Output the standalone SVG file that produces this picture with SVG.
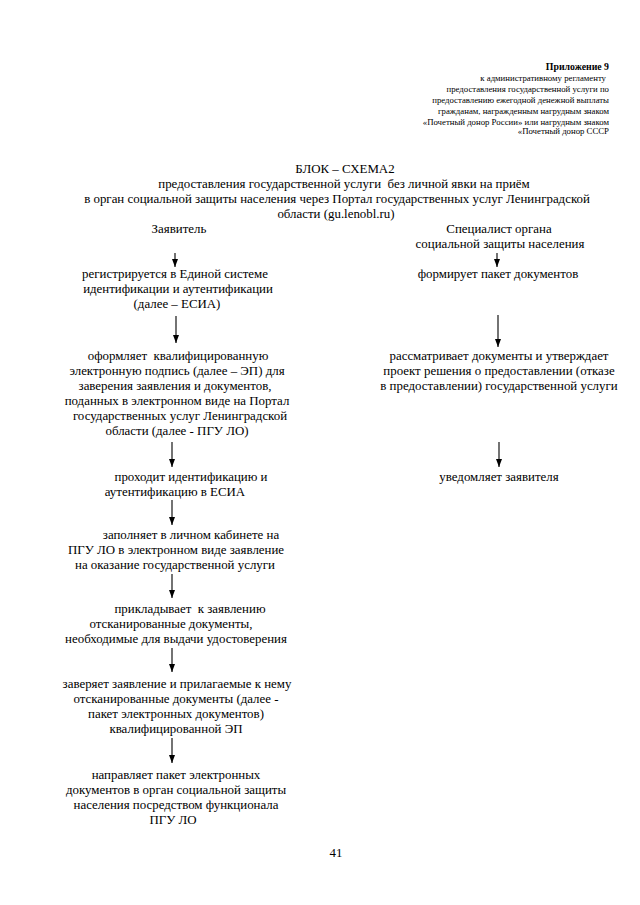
<svg xmlns="http://www.w3.org/2000/svg" width="640" height="905" viewBox="0 0 640 905">
<defs>
<style>
text{font-family:"Liberation Serif","Times New Roman",serif;fill:#000;white-space:pre;}
.hd{font-size:8.75px;text-anchor:end;}
.hb{font-size:9.8px;font-weight:bold;text-anchor:end;}
.t{font-size:12.9px;text-anchor:middle;}
</style>
<marker id="ad" viewBox="0 0 6 8" refX="3" refY="8" markerWidth="6" markerHeight="8" markerUnits="userSpaceOnUse">
<path d="M0,0 L6,0 L3,8 Z" fill="#000"/>
</marker>
</defs>
<rect width="640" height="905" fill="#fff"/>
<g id="header">
<text class="hb" x="609" y="70">Приложение 9</text>
<text class="hd" x="606" y="81">к административному регламенту</text>
<text class="hd" x="609" y="92">предоставления государственной услуги по</text>
<text class="hd" x="609" y="103">предоставлению ежегодной денежной выплаты</text>
<text class="hd" x="609" y="114">гражданам, награжденным нагрудным знаком</text>
<text class="hd" x="609" y="125">«Почетный донор России» или нагрудным знаком</text>
<text class="hd" x="609" y="134">«Почетный донор СССР</text>
</g>
<g id="title">
<text class="t" x="345" y="173">БЛОК – СХЕМА2</text>
<text class="t" x="344" y="188">предоставления государственной услуги  без личной явки на приём</text>
<text class="t" x="337" y="203">в орган социальной защиты населения через Портал государственных услуг Ленинградской</text>
<text class="t" x="336" y="218">области (gu.lenobl.ru)</text>
</g>
<g id="lane-applicant"><text class="t" x="179" y="233">Заявитель</text></g>
<g id="lane-specialist">
<text class="t" x="499" y="233">Специалист органа</text>
<text class="t" x="500" y="248">социальной защиты населения</text>
</g>
<g id="n1"><text class="t" x="175" y="278">регистрируется в Единой системе</text><text class="t" x="178" y="293">идентификации и аутентификации</text><text class="t" x="177" y="308">(далее – ЕСИА)</text></g>
<g id="n2"><text class="t" x="178" y="360">оформляет  квалифицированную</text><text class="t" x="177" y="375">электронную подпись (далее – ЭП) для</text><text class="t" x="175" y="390">заверения заявления и документов,</text><text class="t" x="177" y="405">поданных в электронном виде на Портал</text><text class="t" x="180" y="420">государственных услуг Ленинградской</text><text class="t" x="177" y="435">области (далее - ПГУ ЛО)</text></g>
<g id="n3"><text class="t" x="191" y="481">проходит идентификацию и</text><text class="t" x="175" y="496">аутентификацию в ЕСИА</text></g>
<g id="n4"><text class="t" x="191" y="539">заполняет в личном кабинете на</text><text class="t" x="176" y="554">ПГУ ЛО в электронном виде заявление</text><text class="t" x="175" y="569">на оказание государственной услуги</text></g>
<g id="n5"><text class="t" x="190" y="613">прикладывает  к заявлению</text><text class="t" x="171" y="628">отсканированные документы,</text><text class="t" x="176" y="643">необходимые для выдачи удостоверения</text></g>
<g id="n6"><text class="t" x="177" y="688">заверяет заявление и прилагаемые к нему</text><text class="t" x="176" y="703">отсканированные документы (далее -</text><text class="t" x="176" y="718">пакет электронных документов)</text><text class="t" x="176" y="733">квалифицированной ЭП</text></g>
<g id="n7"><text class="t" x="176" y="779">направляет пакет электронных</text><text class="t" x="176" y="794">документов в орган социальной защиты</text><text class="t" x="176" y="809">населения посредством функционала</text><text class="t" x="173" y="824">ПГУ ЛО</text></g>
<g id="r1"><text class="t" x="498" y="278">формирует пакет документов</text></g>
<g id="r2"><text class="t" x="499" y="360">рассматривает документы и утверждает</text><text class="t" x="499" y="375">проект решения о предоставлении (отказе</text><text class="t" x="499" y="390">в предоставлении) государственной услуги</text></g>
<g id="r3"><text class="t" x="499" y="481">уведомляет заявителя</text></g>
<g id="connectors" stroke="#000" stroke-width="1.1" marker-end="url(#ad)">
<line x1="175" y1="253" x2="175" y2="267"/>
<line x1="176" y1="316" x2="176" y2="343"/>
<line x1="172" y1="442" x2="172" y2="467"/>
<line x1="172" y1="500" x2="172" y2="525"/>
<line x1="172" y1="574" x2="172" y2="598"/>
<line x1="172" y1="648" x2="172" y2="672"/>
<line x1="172" y1="738" x2="172" y2="763"/>
<line x1="497" y1="253" x2="497" y2="267"/>
<line x1="498" y1="315" x2="498" y2="347"/>
<line x1="499" y1="442" x2="499" y2="467"/>
</g>
<g id="page"><text class="t" x="336" y="857">41</text></g>
</svg>
